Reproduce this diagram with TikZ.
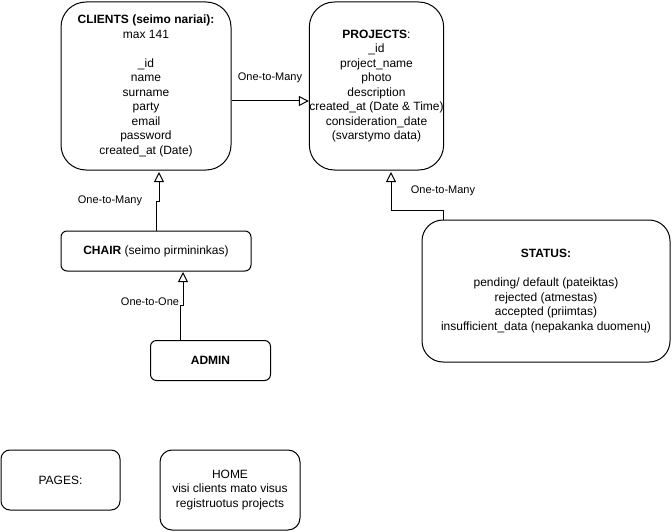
\documentclass[tikz,border=0pt]{standalone}
\usepackage{fontspec}
\setmainfont{Liberation Sans}
\usetikzlibrary{arrows.meta}
\begin{document}
\begin{tikzpicture}[x=1pt,y=-1pt,
  box/.style={draw, line width=1pt, rounded corners=#1, align=center, inner sep=0pt,
    font=\fontsize{12}{14.5}\selectfont},
  conn/.style={draw, line width=1pt, -{Triangle[open,length=10pt,width=10pt]}},
  lbl/.style={font=\fontsize{11}{13}\selectfont, inner sep=0pt}]
\useasboundingbox (0,0) rectangle (672,532);

\node[box=25pt, minimum width=170pt, minimum height=168pt] (clients) at (146,86)
  {\textbf{CLIENTS (seimo nariai):}\\max 141\\[14.5pt]\_id\\name\\surname\\party\\email\\password\\created\_at (Date)};
\node[box=25pt, minimum width=131pt, minimum height=168pt] (projects) at (376.5,86)
  {\textbf{PROJECTS}:\\\_id\\project\_name\\photo\\description\\created\_at (Date \& Time)\\consideration\_date\\(svarstymo data)};
\node[box=21pt, minimum width=248pt, minimum height=142pt] (status) at (546,291)
  {\textbf{STATUS:}\\[14.5pt]pending/ default (pateiktas)\\rejected (atmestas)\\accepted (priimtas)\\insufficient\_data (nepakanka duomenų)};
\node[box=6pt, minimum width=190pt, minimum height=40pt] (chair) at (156,251)
  {\textbf{CHAIR} (seimo pirmininkas)};
\node[box=6pt, minimum width=120pt, minimum height=40pt] (admin) at (210.5,360.5)
  {\textbf{ADMIN}};
\node[box=9pt, minimum width=119pt, minimum height=60pt] (pages) at (60.5,480)
  {PAGES:};
\node[box=12pt, minimum width=140pt, minimum height=80pt] (home) at (230,490)
  {HOME\\visi clients mato visus\\registruotus projects};

% CLIENTS -> PROJECTS
\coordinate (cp1) at (clients.east |- 0,101);
\coordinate (cp2) at (projects.west |- 0,101);
\draw[conn] (cp1) -- (cp2);
\node[lbl] (l1) at (270,78) {One-to-Many};

% STATUS -> PROJECTS
\coordinate (sp1) at (443,220);
\coordinate (sp2) at (443,210);
\coordinate (sp3) at (391,210);
\coordinate (sp4) at (391,172);
\draw[conn] (sp1) -- (sp2) -- (sp3) -- (sp4);
\node[lbl] (l2) at (443,191) {One-to-Many};

% CHAIR -> CLIENTS
\coordinate (cc1) at (156,231);
\coordinate (cc2) at (156,201);
\coordinate (cc3) at (159,201);
\coordinate (cc4) at (159,172);
\draw[conn] (cc1) -- (cc2) -- (cc3) -- (cc4);
\node[lbl] (l3) at (110,201) {One-to-Many};

% ADMIN -> CHAIR
\coordinate (ac1) at (180,340.5);
\coordinate (ac2) at (180,305);
\coordinate (ac3) at (183,305);
\coordinate (ac4) at (183,272);
\draw[conn] (ac1) -- (ac2) -- (ac3) -- (ac4);
\node[lbl] (l4) at (150,302) {One-to-One};
\end{tikzpicture}
\end{document}
